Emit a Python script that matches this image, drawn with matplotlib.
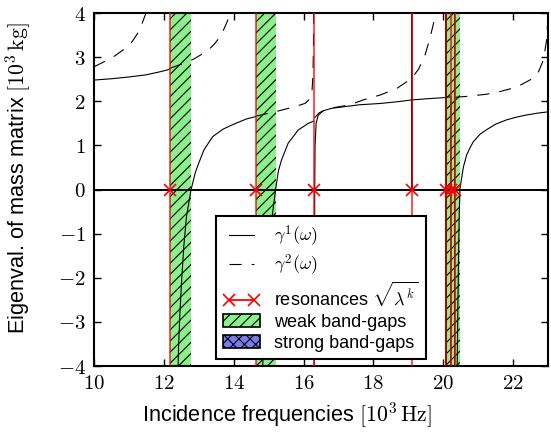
import numpy as np
import matplotlib
matplotlib.use('Agg')
import matplotlib.pyplot as plt
from matplotlib.lines import Line2D
from matplotlib.patches import Patch

plt.rcParams['font.family'] = 'sans-serif'
plt.rcParams['font.sans-serif'] = ['Liberation Sans', 'DejaVu Sans']
plt.rcParams['mathtext.fontset'] = 'cm'
plt.rcParams['hatch.linewidth'] = 0.8

nan = np.nan

# lowest eigenvalue gamma^1 (segments split at the poles with nan)
gamma1_freq = [10.0, 10.5, 11.0, 11.5, 11.9, 12.1, 12.18, nan,
               12.40, 12.42, 12.46, 12.51, 12.57, 12.65, 12.78, 12.9, 13.0, 13.15, 13.4, 13.7, 14.0, 14.37, 14.62, nan,
               14.82, 14.86, 14.92, 14.99, 15.07, 15.20, 15.28, 15.37, 15.56, 15.85, 16.14, 16.29, nan,
               16.305, 16.315, 16.32, 16.33, 16.36, 16.42, 16.55, 16.8, 17.2, 17.6, 18.2, 18.7,
               19.10, 19.10, 19.101, 19.101, 19.102, 19.102, 19.6, 20.0,
               20.08, 20.08, 20.081, 20.081, 20.082, 20.082, 20.22, 20.22, nan,
               20.33, 20.33, 20.39, 20.40, 20.42, 20.44, 20.46, 20.48, 20.58, 20.67, 20.77, 20.86,
               21.05, 21.25, 21.5, 21.82, 22.1, 22.39, 22.7, 23.0]
gamma1_val = [2.48, 2.51, 2.55, 2.60, 2.67, 2.71, 2.74, nan,
              -4.3, -3.6, -2.8, -2.05, -1.3, -0.6, 0.0, 0.38, 0.6, 0.9, 1.2, 1.37, 1.48, 1.6, 1.65, nan,
              -4.3, -3.3, -2.4, -1.6, -0.8, 0.0, 0.42, 0.67, 1.05, 1.35, 1.5, 1.55, nan,
              -4.3, -2.0, 0.0, 1.0, 1.5, 1.68, 1.78, 1.84, 1.88, 1.92, 1.95, 1.99,
              2.03, 4.3, 4.3, 0.0, 0.0, 2.03, 2.06, 2.08,
              2.09, 4.3, 4.3, -4.3, -4.3, 2.09, 2.10, -4.3, nan,
              4.3, -4.3, -4.3, -4.0, -2.6, -1.4, -0.5, 0.03, 0.52, 0.78, 0.95, 1.08,
              1.25, 1.36, 1.48, 1.58, 1.64, 1.69, 1.73, 1.76]

# second eigenvalue gamma^2
gamma2_freq = [10.0, 10.3, 10.6, 10.9, 11.1, 11.25, 11.38, 11.48, 11.54, nan,
               12.19, 12.5, 12.84, 13.1, 13.3, 13.45, 13.6, 13.7, 13.8, 13.9, 13.96, nan,
               14.63, 14.9, 15.33, 15.76, 16.04, 16.18, 16.24, 16.27, 16.285, 16.29, nan,
               16.31, 16.45, 16.62, 16.9, 17.19, 17.5, 17.71, 18.19, 18.67, 18.95, 19.1, 19.29,
               19.48, 19.62, 19.72, 19.78, 19.83, nan,
               20.34, 20.67, 21.25, 21.63, 22.1, 22.48, 22.73, 22.87, 22.96, 23.0, 23.03]
gamma2_val = [2.78, 2.9, 3.03, 3.2, 3.36, 3.54, 3.77, 3.98, 4.3, nan,
              2.75, 2.84, 2.95, 3.07, 3.18, 3.3, 3.45, 3.6, 3.78, 3.97, 4.3, nan,
              1.66, 1.71, 1.79, 1.88, 1.95, 2.05, 2.2, 2.6, 3.3, 4.3, nan,
              1.62, 1.74, 1.80, 1.86, 1.90, 1.97, 2.03, 2.14, 2.29, 2.44, 2.53, 2.72,
              3.05, 3.43, 3.76, 4.0, 4.3, nan,
              2.09, 2.11, 2.16, 2.22, 2.32, 2.48, 2.67, 2.94, 3.39, 3.92, 4.3]

resonances = [12.19, 14.63, 16.30, 19.10, 20.08, 20.22, 20.33]
weak_gaps = [(12.19, 12.79), (14.63, 15.20), (20.08, 20.47)]

xticks = [10, 12, 14, 16, 18, 20, 22]
yticks = [-4, -3, -2, -1, 0, 1, 2, 3, 4]

weak_color = '#8cf08c'
strong_color = '#7b7bf0'

fig = plt.figure(figsize=(5.51, 4.41), dpi=100)
ax = fig.add_axes([94/551., 75/441., 454/551., 353/441.])

for lo, hi in weak_gaps:
    ax.axvspan(lo, hi, facecolor=weak_color, edgecolor='k', lw=0, hatch='///', zorder=1)

ax.axhline(0, color='k', lw=1.4, zorder=2)

ax.plot(gamma1_freq, gamma1_val, color='k', lw=0.8, zorder=3)
ax.plot(gamma2_freq, gamma2_val, color='k', lw=0.8, dashes=(11, 9), zorder=3)

for w in resonances:
    ax.axvline(w, color='red', lw=1.3, alpha=0.75, zorder=4)
ax.plot(resonances, np.zeros(len(resonances)), 'x', color='red', ms=9, mew=1.2, zorder=5)

ax.set_xlim(10, 23)
ax.set_ylim(-4, 4)
ax.set_xticks(xticks)
ax.set_xticklabels(['$%d$' % t for t in xticks])
ax.set_yticks(yticks)
ax.set_yticklabels(['$%d$' % t for t in yticks])
ax.tick_params(direction='in', top=True, right=True, length=5, width=1, labelsize=15, pad=6)
for s in ax.spines.values():
    s.set_linewidth(1.5)

ax.set_xlabel('Incidence frequencies $[10^3\\,\\mathrm{Hz}]$', fontsize=15.7)
ax.set_ylabel('Eigenval. of mass matrix $[10^3\\,\\mathrm{kg}]$', fontsize=15.7)
ax.xaxis.set_label_coords(0.425, -0.097)
ax.yaxis.set_label_coords(-0.135, 0.533)

handles = [Line2D([], [], color='k', lw=0.8),
           Line2D([], [], color='k', lw=0.8, dashes=(11, 9)),
           Line2D([], [], color='red', lw=1.3, marker='x', ms=9, mew=1.2),
           Patch(facecolor=weak_color, edgecolor='k', lw=1.2, hatch='///'),
           Patch(facecolor=strong_color, edgecolor='k', lw=1.2, hatch='xxx')]
labels = ['$\\gamma^1(\\omega)$', '$\\gamma^2(\\omega)$', 'resonances $\\sqrt{\\lambda^k}$',
          'weak band-gaps', 'strong band-gaps']
leg = ax.legend(handles, labels, loc='lower center', fontsize=13, numpoints=2,
                fancybox=False, framealpha=1, edgecolor='k', borderaxespad=0.4,
                handlelength=2.0, labelspacing=0.2)
leg.get_frame().set_linewidth(1.5)
leg.set_zorder(10)

fig.savefig('out.png', dpi=100)
